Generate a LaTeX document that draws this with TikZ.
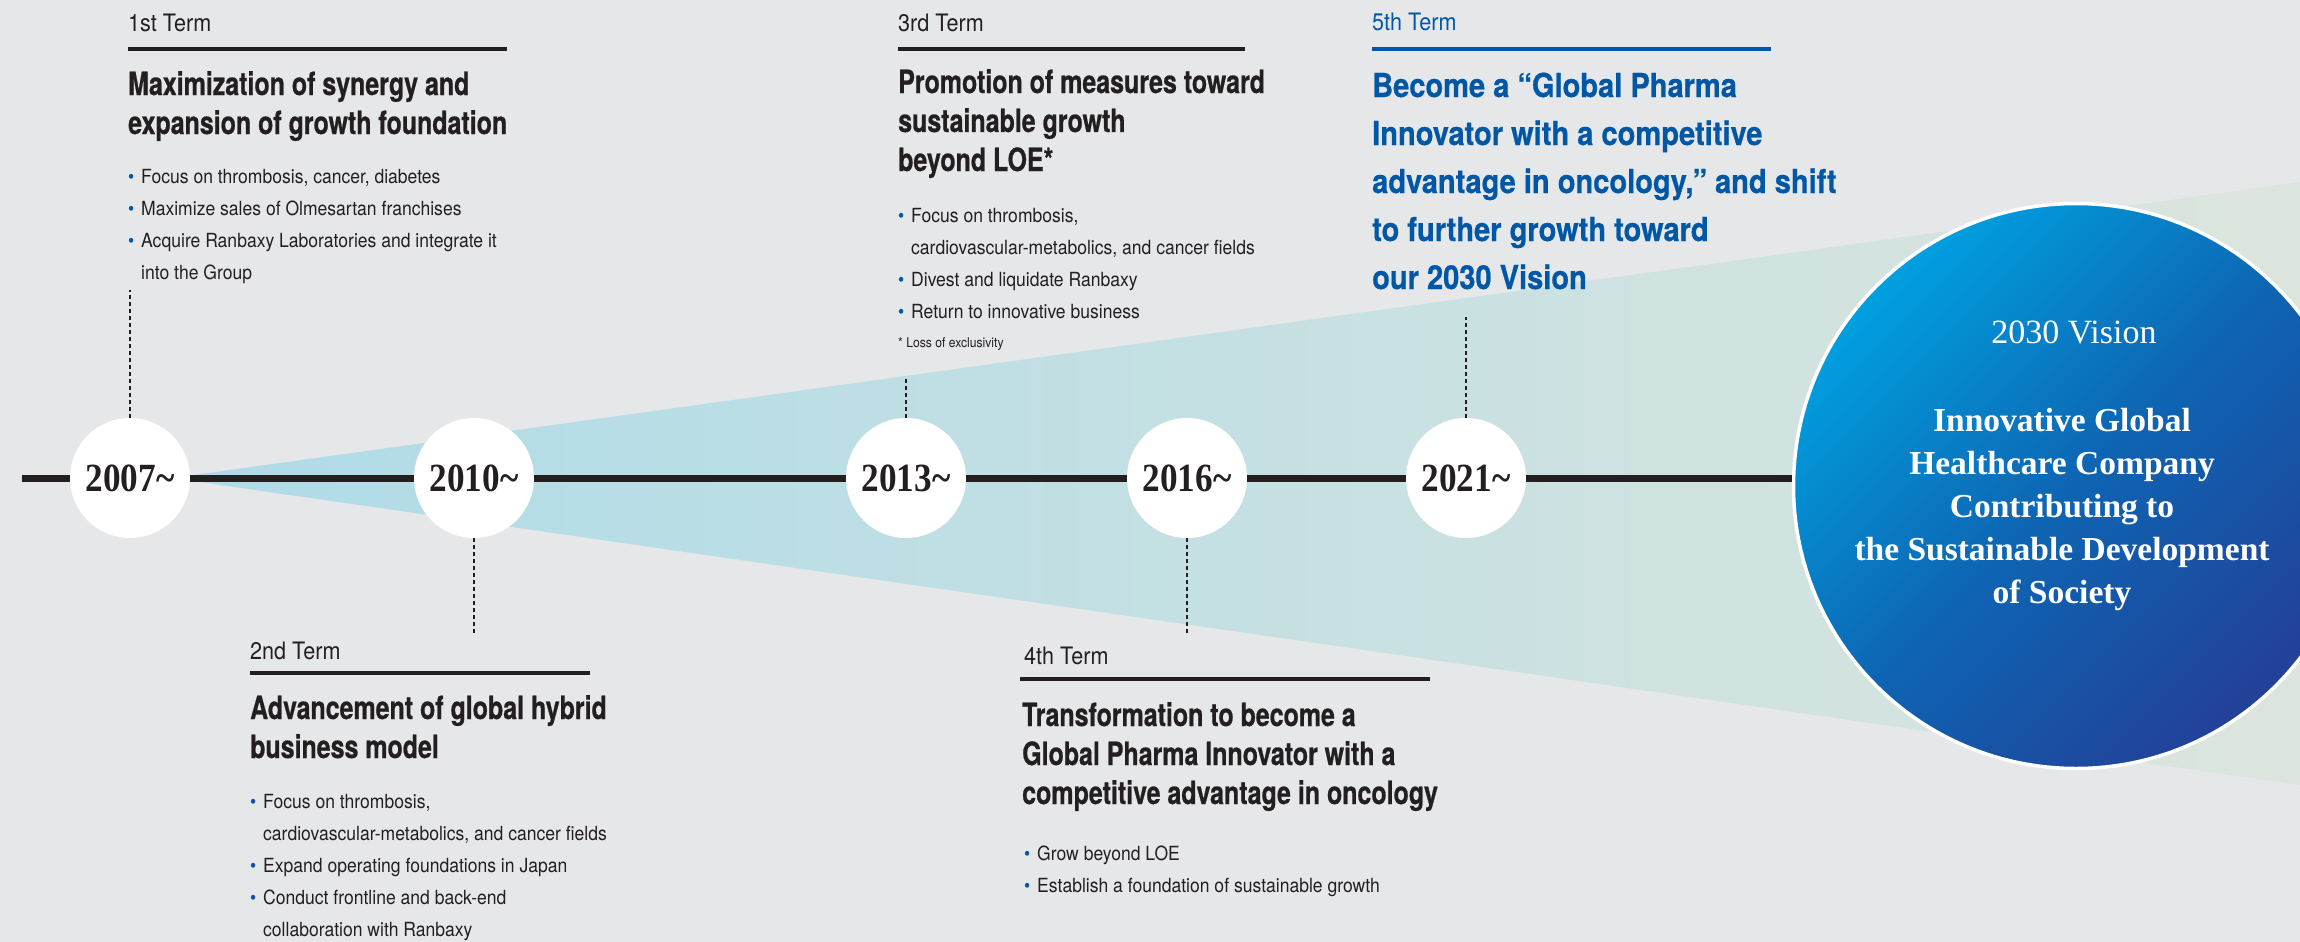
\documentclass[tikz,border=0pt]{standalone}
\usepackage{fontspec}
\setmainfont{TeX Gyre Heros}
\newfontfamily\bodyfont{TeX Gyre Heros}[FakeStretch=0.9]
\newfontfamily\headfont{TeX Gyre Heros}[FakeStretch=0.78,FakeBold=0.6]
\newfontfamily\leadfont{TeX Gyre Heros}[FakeStretch=0.88,FakeBold=0.6]
\newfontfamily\yearfont{Liberation Serif}[FakeStretch=0.88]
\newfontfamily\visionfont{Liberation Serif}

\definecolor{bgray}{RGB}{230,231,233}
\definecolor{inkblack}{RGB}{35,31,32}
\definecolor{dsblue}{RGB}{0,87,166}
\definecolor{wedgeleft}{RGB}{174,219,232}
\definecolor{wedgeright}{RGB}{220,229,221}
\definecolor{visionlight}{RGB}{0,160,224}
\definecolor{visionmid}{RGB}{14,100,178}
\definecolor{visiondark}{RGB}{35,64,152}

\newcommand{\bul}{\makebox[13pt][l]{\textcolor{dsblue}{\textbullet}}}
\newcommand{\ind}{\hspace*{13pt}}

\begin{document}
\begin{tikzpicture}[x=1pt,y=-1pt]
  \tikzstyle{year}=[circle,fill=white,minimum size=120pt,inner sep=0pt,text=inkblack,font=\yearfont\bfseries\fontsize{40}{40}\selectfont]
  \tikzstyle{termlabel}=[anchor=base west,inner sep=0pt,text=inkblack,font=\bodyfont\fontsize{24}{28}\selectfont]
  \tikzstyle{termtitle}=[anchor=base west,inner sep=0pt,align=left,text=inkblack,font=\headfont\bfseries\fontsize{32}{39}\selectfont]
  \tikzstyle{termbody}=[anchor=base west,inner sep=0pt,align=left,text=inkblack,font=\bodyfont\fontsize{19.5}{32}\selectfont]
  \tikzstyle{termrule}=[line width=3.5pt,inkblack]
  \tikzstyle{timeline}=[line width=7pt,inkblack]
  \tikzstyle{leader}=[line width=1.5pt,inkblack,dash pattern=on 4pt off 3pt]

  \useasboundingbox (0,0) rectangle (2300,942);
  \fill[bgray] (0,0) rectangle (2300,942);
  \shade[left color=wedgeleft,right color=wedgeright] (172,478) -- (2300,182) -- (2300,785) -- cycle;

  \node[year] (y07) at (130,478)  {2007\textasciitilde};
  \node[year] (y10) at (474,478)  {2010\textasciitilde};
  \node[year] (y13) at (906,478)  {2013\textasciitilde};
  \node[year] (y16) at (1187,478) {2016\textasciitilde};
  \node[year] (y21) at (1466,478) {2021\textasciitilde};
  \node[circle,draw=white,line width=3.5pt,minimum size=565pt,inner sep=0pt,
        top color=visionlight,bottom color=visiondark,middle color=visionmid,shading angle=45] (vis) at (2076,486) {};

  \coordinate (tl) at (22,478);
  \draw[timeline] (tl) -- (y07);
  \draw[timeline] (y07) -- (y10);
  \draw[timeline] (y10) -- (y13);
  \draw[timeline] (y13) -- (y16);
  \draw[timeline] (y16) -- (y21);
  \draw[timeline] (y21.east) -- (y21.east -| vis.west);

  % multi-line nodes sit on the baseline of their last line
  \node[text=white,inner sep=0pt,anchor=base,font=\visionfont\fontsize{34}{43}\selectfont] (vt) at (2074,343) {2030 Vision};
  \node[text=white,inner sep=0pt,anchor=base,align=center,font=\visionfont\bfseries\fontsize{33.5}{43}\selectfont] (vx) at (2062,603)
    {Innovative Global\\Healthcare Company\\Contributing to\\the Sustainable Development\\of Society};

  % 1st term
  \node[termlabel] (l1) at (128,32) {1st Term};
  \draw[termrule] (128,49) -- (507,49);
  \node[termtitle] (h1) at (128,134) {Maximization of synergy and\\expansion of growth foundation};
  \node[termbody] (b1) at (128,279) {\bul Focus on thrombosis, cancer, diabetes\\ \bul Maximize sales of Olmesartan franchises\\ \bul Acquire Ranbaxy Laboratories and integrate it\\ \ind into the Group};
  \coordinate (e1) at (130,290);
  \draw[leader] (y07) -- (e1);

  % 2nd term
  \node[termlabel] (l2) at (250,659) {2nd Term};
  \draw[termrule] (250,673) -- (590,673);
  \node[termtitle] (h2) at (250,758) {Advancement of global hybrid\\business model};
  \node[termbody] (b2) at (250,936) {\bul Focus on thrombosis,\\ \ind cardiovascular-metabolics, and cancer fields\\ \bul Expand operating foundations in Japan\\ \bul Conduct frontline and back-end\\ \ind collaboration with Ranbaxy};
  \coordinate (e2) at (474,634);
  \draw[leader] (y10) -- (e2);

  % 3rd term
  \node[termlabel] (l3) at (898,32) {3rd Term};
  \draw[termrule] (898,49) -- (1245,49);
  \node[termtitle] (h3) at (898,171) {Promotion of measures toward\\sustainable growth\\beyond LOE*};
  \node[termbody] (b3) at (898,318) {\bul Focus on thrombosis,\\ \ind cardiovascular-metabolics, and cancer fields\\ \bul Divest and liquidate Ranbaxy\\ \bul Return to innovative business};
  \node[termlabel,font=\bodyfont\fontsize{13.5}{16}\selectfont] (n3) at (898,347) {* Loss of exclusivity};
  \coordinate (e3) at (906,376);
  \draw[leader] (y13) -- (e3);

  % 4th term
  \node[termlabel] (l4) at (1024,664) {4th Term};
  \draw[termrule] (1020,679) -- (1430,679);
  \node[termtitle] (h4) at (1022,804) {Transformation to become a\\Global Pharma Innovator with a\\competitive advantage in oncology};
  \node[termbody] (b4) at (1024,892) {\bul Grow beyond LOE\\ \bul Establish a foundation of sustainable growth};
  \coordinate (e4) at (1187,634);
  \draw[leader] (y16) -- (e4);

  % 5th term
  \node[termlabel,text=dsblue] (l5) at (1372,31) {5th Term};
  \draw[termrule,dsblue] (1372,49) -- (1771,49);
  \node[termtitle,text=dsblue,font=\leadfont\bfseries\fontsize{33}{48}\selectfont] (h5) at (1372,289)
    {Become a “Global Pharma\\Innovator with a competitive\\advantage in oncology,” and shift\\to further growth toward\\our 2030 Vision};
  \coordinate (e5) at (1466,317);
  \draw[leader] (y21) -- (e5);
\end{tikzpicture}
\end{document}
